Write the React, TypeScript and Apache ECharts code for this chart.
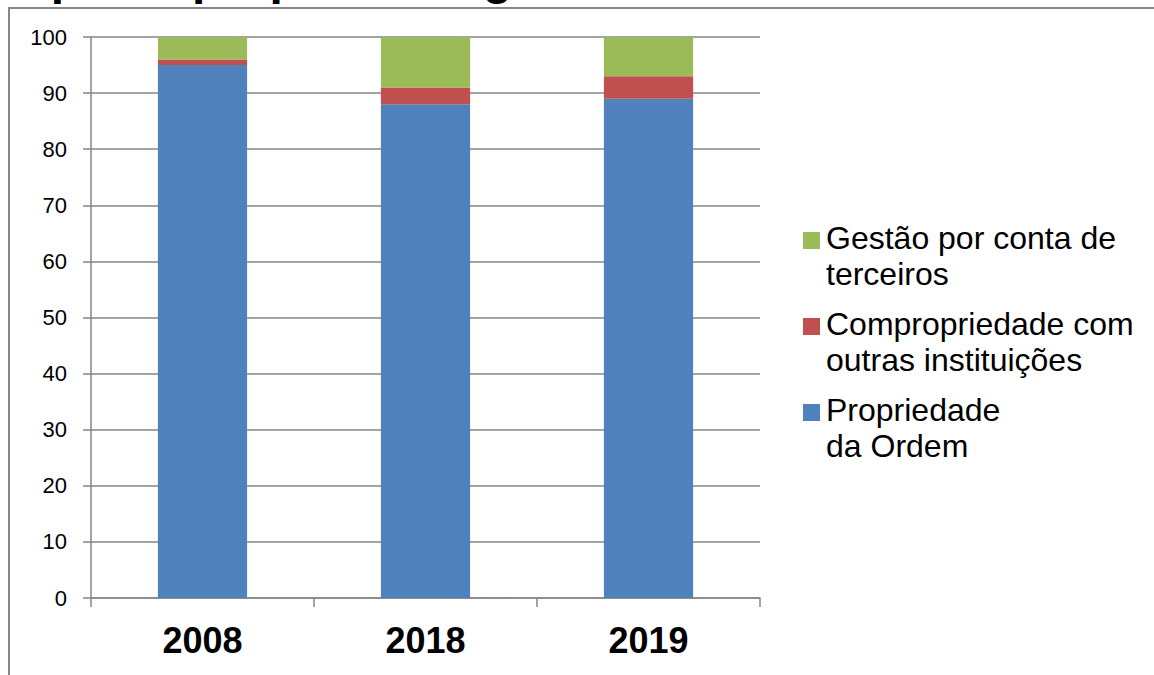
import React, { useEffect, useRef } from "react";
import * as echarts from "echarts";

const title = "Tipo de propriedade/gestão";
const years = ["2008", "2018", "2019"];
const seriesNames = ["Propriedade\nda Ordem", "Compropriedade com\noutras instituições", "Gestão por conta de\nterceiros"];
const propriedade = [95, 88, 89];
const compropriedade = [1, 3, 4];
const gestao = [4, 9, 7];
const colors = ["#4F81BD", "#C0504D", "#9BBB59"];
const yTicks = { min: 0, max: 100, interval: 10 };

const FONT = "'Liberation Sans', Arial, sans-serif";

export default function App() {
  const ref = useRef<HTMLDivElement>(null);
  useEffect(() => {
    if (!ref.current) return;
    const chart = echarts.init(ref.current, null, { renderer: "svg" });
    const values = [propriedade, compropriedade, gestao];
    const legendOrder = [2, 1, 0];
    const legendGraphics: any[] = [];
    legendOrder.forEach((si, i) => {
      const top = 221 + i * 86;
      legendGraphics.push({
        type: "rect",
        shape: { x: 803, y: top + 11, width: 17, height: 17 },
        style: { fill: colors[si] },
      });
      legendGraphics.push({
        type: "text",
        x: 826,
        y: top - 1,
        style: {
          text: seriesNames[si],
          font: `32px ${FONT}`,
          lineHeight: 36,
          fill: "#000",
          verticalAlign: "top",
          align: "left",
        },
      });
    });
    chart.setOption({
      animation: false,
      backgroundColor: "#fff",
      textStyle: { fontFamily: FONT },
      graphic: [
        {
          type: "text",
          x: 9,
          y: 1,
          style: {
            text: title,
            font: `bold 48px ${FONT}`,
            fill: "#000",
            verticalAlign: "bottom",
            align: "left",
          },
        },
        {
          type: "rect",
          shape: { x: 9, y: 8, width: 1300, height: 800 },
          style: { fill: "#fff", stroke: "#868686", lineWidth: 2 },
        },
        ...legendGraphics,
      ],
      grid: { left: 91, right: 394, top: 37, bottom: 77, containLabel: false },
      xAxis: {
        type: "category",
        data: years,
        boundaryGap: true,
        axisLine: { show: true, lineStyle: { color: "#868686", width: 1.5 } },
        axisTick: { show: true, length: 9, alignWithLabel: false, lineStyle: { color: "#868686", width: 1.5 } },
        axisLabel: { color: "#000", fontSize: 36, fontWeight: "bold", margin: 24, fontFamily: FONT },
      },
      yAxis: {
        type: "value",
        min: yTicks.min,
        max: yTicks.max,
        interval: yTicks.interval,
        axisLine: { show: true, lineStyle: { color: "#868686", width: 1.5 } },
        axisTick: { show: true, length: 8, lineStyle: { color: "#868686", width: 1.5 } },
        splitLine: { show: true, lineStyle: { color: "#868686", width: 1.5 } },
        axisLabel: { color: "#000", fontSize: 22, margin: 24, fontFamily: FONT },
      },
      series: values.map((v, i) => ({
        name: seriesNames[i],
        type: "bar",
        stack: "total",
        data: v,
        barWidth: "40%",
        itemStyle: { color: colors[i] },
      })),
    });
    return () => chart.dispose();
  }, []);
  return (
    <div
      ref={ref}
      style={{ position: "fixed", left: 0, top: 0, width: 1154, height: 675 }}
    />
  );
}
